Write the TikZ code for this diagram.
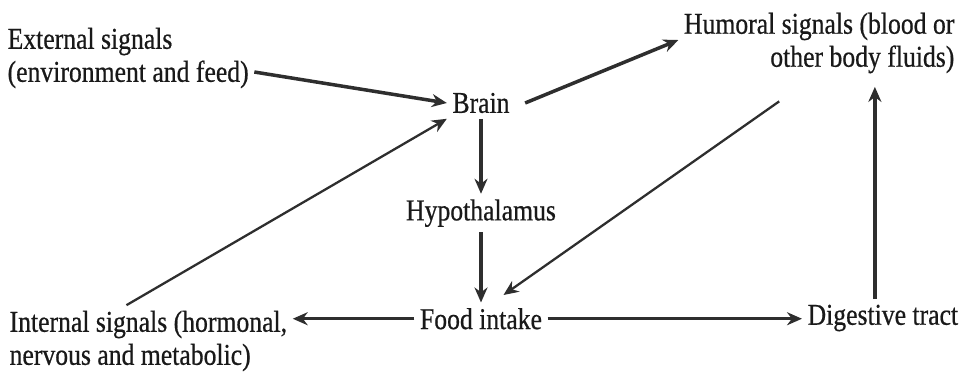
\documentclass[tikz,border=0pt]{standalone}
\usepackage{fontspec}
\setmainfont{Liberation Serif}[FakeStretch=0.85, FakeBold=0.6]
\usetikzlibrary{positioning, arrows.meta}
\tikzset{
  dtxt/.style={inner sep=3pt, text=black!90, font=\fontsize{17.2}{18.8}\selectfont},
  dlft/.style={dtxt, align=left},
  drgt/.style={dtxt, align=right},
  dar/.style={-{Stealth[length=3mm, width=2.6mm]}, line width=2pt, draw=black!82},
  dthin/.style={dar, line width=1.3pt},
}

\begin{document}
\begin{tikzpicture}[x=0.02cm, y=-0.02cm, node distance=1.5cm]
  \useasboundingbox (0,0) rectangle (967,379);
  \node[dtxt](brain) at (481,103){Brain};
  \node[dtxt, below=of brain](hyp){Hypothalamus};
  \node[dtxt, below=1.4cm of hyp](food){Food intake};
  \node[dlft, anchor=west](ext) at (2,58){External signals\\(environment and feed)};
  \node[drgt, anchor=east](hum) at (960,43){Humoral signals (blood or\\other body fluids)};
  \node[dlft, anchor=west](int) at (4,341){Internal signals (hormonal,\\nervous and metabolic)};
  \node[dtxt, anchor=west](dig) at (802,318){Digestive tract};
  % arrows
  \draw[dar]([yshift=-0.28cm]ext.east)--(brain.west);
  \draw[dthin]([xshift=2.45cm]int.north west)--(brain.south west);
  \draw[dar]([xshift=0.2cm]brain.east)--([yshift=0.06cm]hum.west);
  \draw[dar](brain)--(hyp); \draw[dar](hyp)--(food);
  \draw[dthin]([xshift=-0.8cm, yshift=-0.45cm]hum.south)--([xshift=0.45cm, yshift=0.15cm]food.north);
  \draw[dar](food.west)--(food.west -| int.east);
  \draw[dar](food.east)--(food.east -| dig.west);
  \draw[dar]([xshift=-0.16cm]dig.north)--([xshift=-0.16cm, yshift=-0.16cm]hum.south -| dig.north);
\end{tikzpicture}
\end{document}
